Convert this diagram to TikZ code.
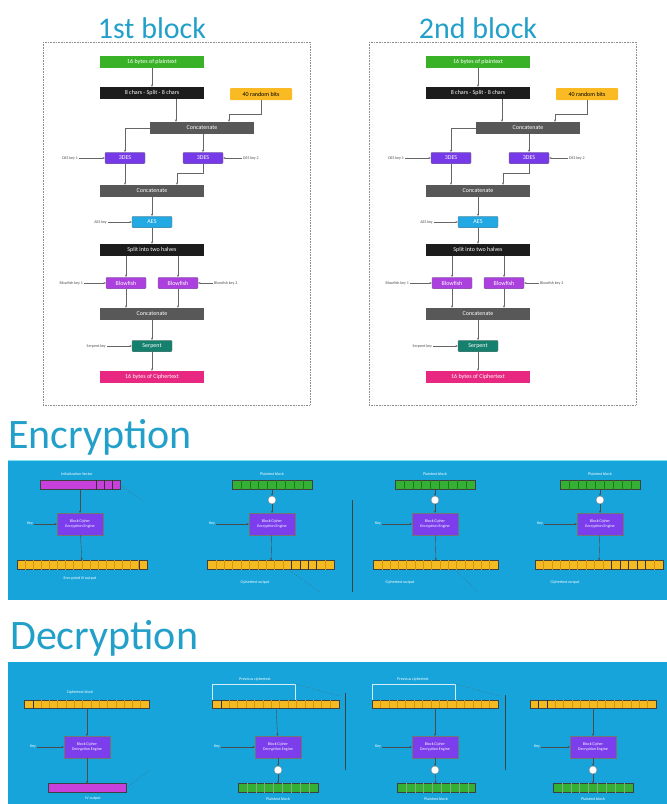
\documentclass[tikz,border=0pt]{standalone}
\usepackage{fontspec}
\setmainfont{Carlito}
\usetikzlibrary{arrows.meta}

\definecolor{titleblue}{RGB}{34,160,202}
\definecolor{plaingreen}{RGB}{58,178,40}
\definecolor{darkbox}{RGB}{28,28,28}
\definecolor{randorange}{RGB}{250,186,36}
\definecolor{concatgray}{RGB}{88,88,88}
\definecolor{desviolet}{RGB}{118,58,232}
\definecolor{aesblue}{RGB}{34,168,226}
\definecolor{fishviolet}{RGB}{172,64,222}
\definecolor{serpteal}{RGB}{22,128,110}
\definecolor{cipherpink}{RGB}{232,40,128}
\definecolor{panelblue}{RGB}{22,164,218}
\definecolor{panelrim}{RGB}{130,225,242}
\definecolor{baryellow}{RGB}{244,186,34}
\definecolor{yellowline}{RGB}{214,150,20}
\definecolor{bargreen}{RGB}{52,176,52}
\definecolor{greenline}{RGB}{30,120,30}
\definecolor{barmagenta}{RGB}{200,64,220}
\definecolor{engineviolet}{RGB}{124,62,236}

\begin{document}
\begin{tikzpicture}[x=1pt,y=-1pt,
    title/.style={anchor=base, text=titleblue, font=\fontsize{30}{32}\selectfont},
    heading/.style={anchor=base west, text=titleblue, font=\fontsize{42}{44}\selectfont, inner sep=0pt},
    frame/.style={draw=black!45, densely dotted, line width=0.6pt},
    box/.style={minimum height=12pt, inner sep=0pt, text=white, font=\fontsize{6}{7}\selectfont},
    widebox/.style={box, minimum width=104pt},
    smallbox/.style={box, minimum width=40pt, minimum height=11.5pt, rounded corners=1.2pt, draw=black!55, line width=0.3pt},
    keytxt/.style={text=black!70, inner sep=1pt, font=\fontsize{4}{5}\selectfont},
    flow/.style={draw=black!60, line width=0.4pt, -{Stealth[length=2.4pt,width=2pt]}},
    engine/.style={fill=engineviolet, draw=black!55, line width=0.3pt, minimum width=46pt, minimum height=22pt, inner sep=0pt, align=center, text=white, font=\fontsize{4}{4.8}\selectfont},
    bar/.style={minimum height=9pt, inner sep=0pt, draw=black!75, line width=0.3pt},
    xor/.style={circle, fill=white, draw=black!50, minimum size=8pt, inner sep=0pt},
    paneltxt/.style={text=white, inner sep=1pt, font=\fontsize{4}{5}\selectfont},
    link/.style={draw=black!70, line width=0.4pt, -{Stealth[length=2.2pt,width=2pt]}},
    hint/.style={draw=black!65, dotted, line width=0.5pt},
    cell/.style={line width=0.3pt},
    divider/.style={draw=black!75, line width=0.6pt}]
\useasboundingbox (0,0) rectangle (667,804);

\foreach \dx/\p/\t in {0/a/1st block,326/b/2nd block}{
\begin{scope}[xshift=\dx, name prefix=\p-]
  \node[title] (head) at (152,38) {\t};
  \draw[frame] (43,42) rectangle (310,405);
  \node[widebox, fill=plaingreen] (pt) at (152,62) {16 bytes of plaintext};
  \node[widebox, fill=darkbox] (split) at (152,93) {8 chars - Split - 8 chars};
  \node[box, fill=randorange, text=black, minimum width=62pt, rounded corners=1pt] (rnd) at (261,94) {40 random bits};
  \node[widebox, fill=concatgray] (cat1) at (202,128) {Concatenate};
  \node[smallbox, fill=desviolet] (des1) at (125,158) {3DES};
  \node[smallbox, fill=desviolet] (des2) at (203,158) {3DES};
  \node[keytxt, anchor=east] (k1) at (79,158) {DES key 1};
  \node[keytxt, anchor=west] (k2) at (242,158) {DES key 2};
  \node[widebox, fill=concatgray] (cat2) at (152,191) {Concatenate};
  \node[smallbox, fill=aesblue] (aes) at (152,222) {AES};
  \node[keytxt, anchor=east] (k3) at (108,222) {AES key};
  \node[widebox, fill=darkbox] (halves) at (152,250) {Split into two halves};
  \node[smallbox, fill=fishviolet] (bf1) at (126,283) {Blowfish};
  \node[smallbox, fill=fishviolet] (bf2) at (178,283) {Blowfish};
  \node[keytxt, anchor=east] (k4) at (84,283) {Blowfish key 1};
  \node[keytxt, anchor=west] (k5) at (213,283) {Blowfish key 2};
  \node[widebox, fill=concatgray] (cat3) at (152,314) {Concatenate};
  \node[smallbox, fill=serpteal] (serp) at (152,346) {Serpent};
  \node[keytxt, anchor=east] (k6) at (107,346) {Serpent key};
  \node[widebox, fill=cipherpink] (ct) at (152,377) {16 bytes of Ciphertext};

  \draw[flow] (pt) -- (split);
  \draw[flow] ([xshift=24pt]split.south) -- ([xshift=24pt]split.south |- cat1.north);
  \draw[flow] (rnd.south) -- ++(0,14) -| ([xshift=27pt]cat1.north);
  \draw[flow] (cat1.west) -| (des1.north);
  \draw[flow] (cat1.south -| des2.north) -- (des2.north);
  \draw[flow] (k1) -- (des1);
  \draw[flow] (k2) -- (des2);
  \draw[flow] (des1.south) -- (des1.south |- cat2.north);
  \draw[flow] (des2.south) -- ++(0,9) -| ([xshift=25pt]cat2.north);
  \draw[flow] (cat2) -- (aes);
  \draw[flow] (k3) -- (aes);
  \draw[flow] (aes) -- (halves);
  \draw[flow] (halves.south -| bf1.north) -- (bf1.north);
  \draw[flow] (halves.south -| bf2.north) -- (bf2.north);
  \draw[flow] (k4) -- (bf1);
  \draw[flow] (k5) -- (bf2);
  \draw[flow] (bf1.south) -- (bf1.south |- cat3.north);
  \draw[flow] (bf2.south) -- (bf2.south |- cat3.north);
  \draw[flow] (cat3) -- (serp);
  \draw[flow] (k6) -- (serp);
  \draw[flow] (serp) -- (ct);
\end{scope}}

% encryption
\node[heading] (enc) at (8,448) {Encryption};
\fill[panelblue] (8,460) rectangle (667,600);
\draw[panelrim, line width=1.2pt] (8,460.6) -- (667,460.6);

\node[paneltxt] (ivl) at (77,474) {Initialization Vector};
\node[bar, fill=barmagenta, minimum width=80pt] (iv) at (80,485) {};
\node[engine] (e1) at (80,524) {Block Cipher\\Encryption Engine};
\node[paneltxt] (ek1) at (30,524) {Key};
\node[bar, fill=baryellow, minimum width=130pt] (ey1) at (82,565) {};
\node[paneltxt] (eyl1) at (80,578) {Encrypted IV output};
\coordinate (ed1) at (143,501);

\node[paneltxt] (epl2) at (272,474) {Plaintext block};
\node[bar, fill=bargreen, minimum width=80pt] (eg2) at (272,485) {};
\node[xor] (ex2) at (272,500) {};
\node[engine] (e2) at (272,524) {Block Cipher\\Encryption Engine};
\node[paneltxt] (ek2) at (212,524) {Key};
\node[bar, fill=baryellow, minimum width=127pt] (ey2) at (271,565) {};
\node[paneltxt] (eyl2) at (255,582) {Ciphertext output};
\coordinate (ed2) at (320,592);

\node[paneltxt] (epl3) at (435,474) {Plaintext block};
\node[bar, fill=bargreen, minimum width=80pt] (eg3) at (435,485) {};
\node[xor] (ex3) at (435,500) {};
\node[engine] (e3) at (435,524) {Block Cipher\\Encryption Engine};
\node[paneltxt] (ek3) at (378,524) {Key};
\node[bar, fill=baryellow, minimum width=125pt] (ey3) at (436,565) {};
\node[paneltxt] (eyl3) at (400,582) {Ciphertext output};
\coordinate (ed3) at (478,592);

\node[paneltxt] (epl4) at (600,474) {Plaintext block};
\node[bar, fill=bargreen, minimum width=80pt] (eg4) at (600,485) {};
\node[xor] (ex4) at (600,500) {};
\node[engine] (e4) at (600,524) {Block Cipher\\Encryption Engine};
\node[paneltxt] (ek4) at (540,524) {Key};
\node[bar, fill=baryellow, minimum width=128pt] (ey4) at (599,565) {};
\node[paneltxt] (eyl4) at (565,582) {Ciphertext output};

\draw[divider] (352,500) -- (352,592);
\draw[hint] (iv.east) -- (ed1);
\draw[link] (iv) -- (e1);
\draw[link] (ek1) -- (e1);
\draw[link] (e1) -- (ey1);
\foreach \n in {2,3,4}{
  \draw[link] (eg\n) -- (ex\n);
  \draw[link] (ex\n) -- (e\n);
  \draw[link] (ek\n) -- (e\n);
  \draw[link] (e\n) -- (ey\n);
}
\draw[hint] ([xshift=17pt]ey2.south) -- (ed2);
\draw[hint] ([xshift=19pt]ey3.south) -- (ed3);

% decryption
\node[heading] (dec) at (10,649) {Decryption};
\fill[panelblue] (8,662) rectangle (667,804);

\node[paneltxt] (dl1) at (80,692) {Ciphertext block};
\node[bar, fill=baryellow, minimum width=125pt, minimum height=8pt] (dy1) at (87,704) {};
\node[engine] (d1) at (87,747) {Block Cipher\\Decryption Engine};
\node[paneltxt] (dk1) at (33,747) {Key};
\node[bar, fill=barmagenta, minimum width=78pt] (dm1) at (87,788) {};
\node[paneltxt] (dml1) at (93,799) {IV output};
\coordinate (dd1) at (150,770);

\node[paneltxt] (pcl2) at (255,679) {Previous ciphertext};
\coordinate (pc2) at (295,684);
\coordinate (pd2) at (340,696);
\node[bar, fill=baryellow, minimum width=127pt, minimum height=8pt] (dy2) at (276,704) {};
\node[engine] (d2) at (278,747) {Block Cipher\\Decryption Engine};
\node[paneltxt] (dk2) at (217,747) {Key};
\node[xor] (dx2) at (278,770) {};
\node[bar, fill=bargreen, minimum width=80pt] (dg2) at (278,788) {};
\node[paneltxt] (dgl2) at (278,799) {Plaintext block};

\node[paneltxt] (pcl3) at (413,679) {Previous ciphertext};
\coordinate (pc3) at (455,684);
\coordinate (pd3) at (500,696);
\node[bar, fill=baryellow, minimum width=126pt, minimum height=8pt] (dy3) at (435,704) {};
\node[engine] (d3) at (435,747) {Block Cipher\\Decryption Engine};
\node[paneltxt] (dk3) at (378,747) {Key};
\node[xor] (dx3) at (435,770) {};
\node[bar, fill=bargreen, minimum width=78pt] (dg3) at (436,788) {};
\node[paneltxt] (dgl3) at (436,799) {Plaintext block};

\node[bar, fill=baryellow, minimum width=126pt, minimum height=8pt] (dy4) at (593,704) {};
\node[engine] (d4) at (593,747) {Block Cipher\\Decryption Engine};
\node[paneltxt] (dk4) at (537,747) {Key};
\node[xor] (dx4) at (593,770) {};
\node[bar, fill=bargreen, minimum width=80pt] (dg4) at (593,788) {};
\node[paneltxt] (dgl4) at (593,799) {Plaintext block};

\draw[divider] (345,693) -- (345,770);
\draw[divider] (505,695) -- (505,770);
\draw[hint] (dm1.east) -- (dd1);
\draw[link] (dy1) -- (d1);
\draw[link] (dk1) -- (d1);
\draw[link] (d1) -- (dm1);
\foreach \n in {2,3,4}{
  \draw[link] (dy\n) -- (d\n);
  \draw[link] (dk\n) -- (d\n);
  \draw[link] (d\n) -- (dx\n);
  \draw[link] (dx\n) -- (dg\n);
}
\foreach \n in {2,3}{
  \draw[white!80!panelblue, line width=0.4pt] (dy\n.north west) |- (pc\n) -- (pc\n |- dy\n.north);
  \draw[hint] (pc\n) -- (pd\n);
}

% bar cells
\foreach \b/\k/\w in {ey1/15/8.1,ey2/14/8.4,ey3/14/8.3,ey4/14/8.5,dy1/14/8.3,dy2/14/8.4,dy3/14/8.4,dy4/14/8.4}
  \foreach \i in {1,...,\k}
    \draw[cell, draw=yellowline] ([xshift=\i*\w]\b.north west) -- ([xshift=\i*\w]\b.south west);
\foreach \b in {eg2,eg3,eg4}
  \foreach \i in {1,...,8}
    \draw[cell, draw=greenline] ([xshift=\i*8.9]\b.north west) -- ([xshift=\i*8.9]\b.south west);
\foreach \b in {dg2,dg3,dg4}
  \foreach \i in {1,...,8}
    \draw[cell, draw=bargreen!70!black!60] ([xshift=\i*8.9]\b.north west) -- ([xshift=\i*8.9]\b.south west);
\foreach \b/\o in {iv/56,iv/64,iv/72,ey1/122,ey2/84,ey2/92.4,ey2/100.8,ey2/109.2,ey4/76.5,ey4/85,ey4/93.5,ey4/102,ey4/110.5,dy2/8.4,dy4/8.4,dy4/16.8,dy1/8.3}
  \draw[cell, draw=black!80] ([xshift=\o]\b.north west) -- ([xshift=\o]\b.south west);
\end{tikzpicture}
\end{document}
